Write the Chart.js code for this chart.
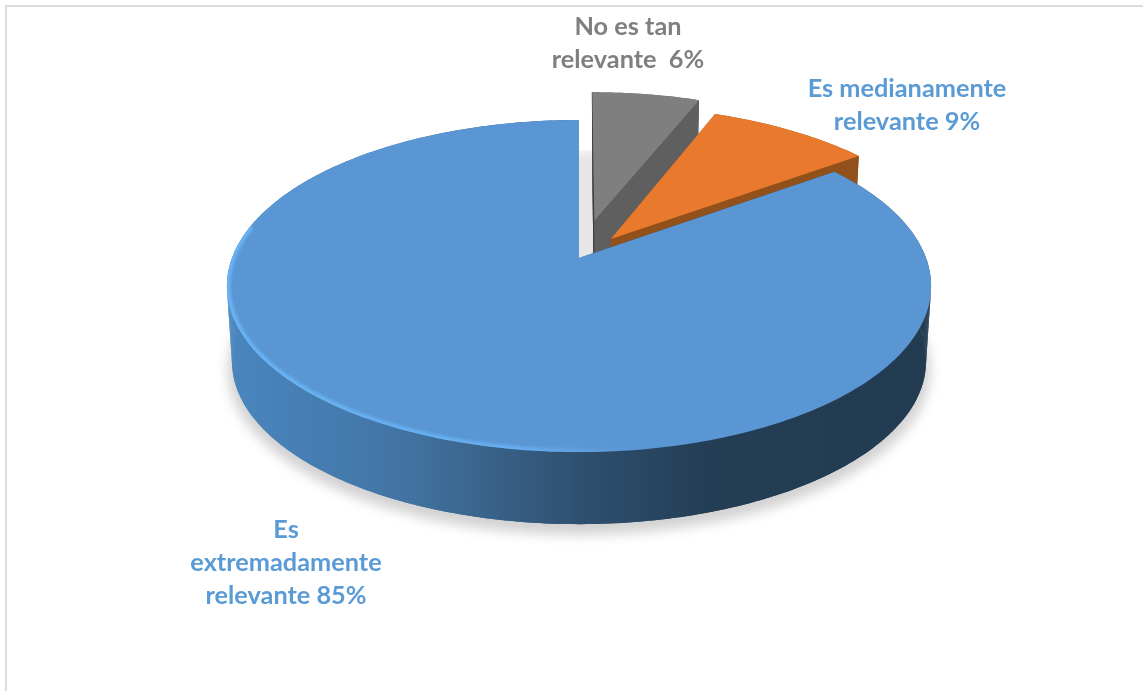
<!DOCTYPE html>
<html><head><meta charset="utf-8">
<script src="https://cdn.jsdelivr.net/npm/chart.js@4"></script>
<style>
html,body{margin:0;padding:0;background:#fff;overflow:hidden}
#frame{position:absolute;left:5px;top:5px;width:1138px;height:686px;box-sizing:border-box;border-left:2px solid #dcdcdc;border-top:2px solid #dcdcdc}
canvas{position:absolute;left:0;top:0;filter:blur(0.45px)}
</style></head>
<body>
<div id="frame"></div>
<canvas id="c" width="1143" height="691"></canvas>
<script>
const categories = ['No es tan relevante', 'Es medianamente relevante', 'Es extremadamente relevante'];
const percentages = [6, 9, 85];
const sliceColors = ['#7f7f7f', '#e97a2d', '#5a96d4'];
const wallColors = ['#5f5f5f', '#92501a', '#2f5070'];
const sliceOffsets = [76, 47, 0];
const labelLines = [['No es tan', 'relevante  6%'], ['Es medianamente', 'relevante 9%'], ['Es', 'extremadamente', 'relevante 85%']];
const labelColors = ['#7f7f7f', '#5b9bd5', '#5b9bd5'];
const labelAnchors = [[628, 27], [907, 89], [286, 530]];

// perspective view of the pie plane
const view = [
  {x0: 579, y0: 258, a: 161.3, b: 347, k: 0.169},
  {x0: 579, y0: 334, a: 158, b: 342, k: 0.169}
];
function project(u, v, level) {
  const p = view[level], w = 1 + p.k * v;
  return [p.x0 + p.b * u / w, p.y0 - p.a * v / w];
}
function slicePoints(el, level) {
  const {startAngle: s, endAngle: e, outerRadius: R} = el;
  const off = (el.options.offset || 0) / R, mid = (s + e) / 2;
  const cx = Math.cos(mid) * off, cy = -Math.sin(mid) * off;
  const arc = [], n = Math.max(8, Math.ceil((e - s) * 60));
  for (let i = 0; i <= n; i++) {
    const t = s + (e - s) * i / n;
    arc.push(project(cx + Math.cos(t), cy - Math.sin(t), level));
  }
  return {apex: project(cx, cy, level), arc};
}
function poly(ctx, pts) {
  ctx.beginPath();
  pts.forEach((p, i) => i ? ctx.lineTo(p[0], p[1]) : ctx.moveTo(p[0], p[1]));
  ctx.closePath();
}
const pie3d = {
  id: 'pie3d',
  beforeDatasetsDraw(chart) {
    const ctx = chart.ctx, els = chart.getDatasetMeta(0).data;
    const gray = slicePoints(els[0], 0), blueTop = slicePoints(els[2], 0);
    // ground shadow
    ctx.save();
    ctx.filter = 'blur(6px)';
    ctx.fillStyle = '#d2d2d2';
    const full = [];
    for (let i = 0; i <= 120; i++) {
      const t = i / 120 * Math.PI * 2;
      full.push(project(Math.cos(t) * 1.012, Math.sin(t) * 1.012, 1));
    }
    ctx.translate(0, 8);
    poly(ctx, full);
    ctx.fill();
    ctx.restore();
    // pale shadow in the notch
    const g = ctx.createLinearGradient(0, 148, 0, 160);
    g.addColorStop(0, '#f6f6f6');
    g.addColorStop(1, '#e6e6e6');
    ctx.fillStyle = g;
    const nx = blueTop.apex[0], gx = gray.apex[0];
    poly(ctx, [[nx, 150], [gx, 150], [gx, blueTop.apex[1]], [nx, blueTop.apex[1]]]);
    ctx.fill();
  },
  beforeDatasetDraw(chart) {
    const ctx = chart.ctx, els = chart.getDatasetMeta(0).data;
    els.forEach((el, idx) => {
      const top = slicePoints(el, 0), low = slicePoints(el, 1);
      let wall = wallColors[idx];
      if (idx === 2) {
        wall = ctx.createLinearGradient(228, 0, 930, 0);
        wall.addColorStop(0, '#4a86bf');
        wall.addColorStop(0.25, '#4274a3');
        wall.addColorStop(0.5, '#2f5070');
        wall.addColorStop(0.68, '#243e55');
        wall.addColorStop(1, '#223b51');
      }
      ctx.fillStyle = wall;
      const a = [top.apex, ...top.arc], b = [low.apex, ...low.arc];
      poly(ctx, b); ctx.fill();
      for (let i = 0; i < a.length; i++) {
        const j = (i + 1) % a.length;
        poly(ctx, [a[i], a[j], b[j], b[i]]);
        ctx.fill();
      }
      if (idx === 0) {
        ctx.strokeStyle = '#3a3a3a'; ctx.lineWidth = 1;
        ctx.beginPath(); ctx.moveTo(top.arc[0][0], top.arc[0][1]); ctx.lineTo(low.apex[0], low.apex[1]); ctx.stroke();
      }
      ctx.fillStyle = el.options.backgroundColor;
      poly(ctx, a); ctx.fill();
      if (idx === 2) {
        ctx.save();
        poly(ctx, a);
        ctx.clip();
        ctx.filter = 'blur(1.6px)';
        const rim = ctx.createLinearGradient(228, 0, 640, 0);
        rim.addColorStop(0, 'rgba(106,180,246,1)');
        rim.addColorStop(0.7, 'rgba(106,180,246,0.8)');
        rim.addColorStop(1, 'rgba(106,180,246,0)');
        ctx.strokeStyle = rim; ctx.lineWidth = 7;
        ctx.beginPath();
        top.arc.forEach((p) => {
          if (p[0] > 640 || p[1] < 225) return;
          ctx.lineTo(p[0], p[1]);
        });
        ctx.stroke();
        ctx.restore();
      }
    });
    return false;
  },
  afterDatasetsDraw(chart) {
    const ctx = chart.ctx;
    ctx.save();
    ctx.font = '700 25.3px Lato';
    ctx.textAlign = 'center';
    ctx.textBaseline = 'middle';
    labelLines.forEach((lines, i) => {
      ctx.fillStyle = labelColors[i];
      lines.forEach((t, j) => ctx.fillText(t, labelAnchors[i][0], labelAnchors[i][1] + j * 32.7));
    });
    ctx.restore();
  }
};
new Chart(document.getElementById('c'), {
  type: 'pie',
  data: {
    labels: categories,
    datasets: [{data: percentages, backgroundColor: sliceColors, offset: sliceOffsets, borderWidth: 0}]
  },
  options: {
    responsive: false,
    animation: false,
    rotation: 0,
    plugins: {legend: {display: false}, tooltip: {enabled: false}}
  },
  plugins: [pie3d]
});
</script>
</body></html>
